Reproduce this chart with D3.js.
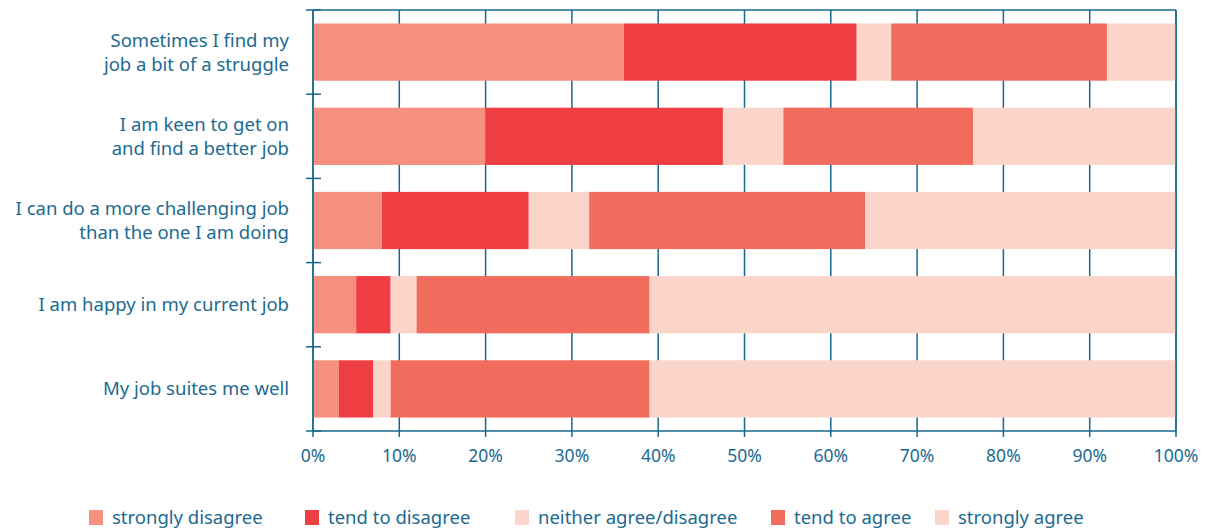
<!DOCTYPE html>
<html>
<head>
<meta charset="utf-8">
<script src="https://cdn.jsdelivr.net/npm/d3@7"></script>
<style>
  body { margin: 0; background: #fff; }
  text { font-family: "Noto Sans", sans-serif; fill: #1c6a91; }
</style>
</head>
<body>
<div id="chart"></div>
<script>
let w = 1210;
let h = 532;

// data (percent of respondents)
const statements = [
  ["Sometimes I find my", "job a bit of a struggle"],
  ["I am keen to get on", "and find a better job"],
  ["I can do a more challenging job", "than the one I am doing"],
  ["I am happy in my current job"],
  ["My job suites me well"]
];
const answers = ["strongly disagree", "tend to disagree", "neither agree/disagree", "tend to agree", "strongly agree"];
const stronglyDisagree = [36, 20, 8, 5, 3];
const tendDisagree     = [27, 27.5, 17, 4, 4];
const neither          = [4, 7, 7, 3, 2];
const tendAgree        = [25, 22, 32, 27, 30];
const stronglyAgree    = [8, 23.5, 36, 61, 61];
const xTicks = [0, 10, 20, 30, 40, 50, 60, 70, 80, 90, 100];

const colors = ["#f4907d", "#ef3e42", "#fbd5ca", "#f26c5e", "#fbd5ca"];
const axisColor = "#17688f";

// build table rows for the stack
const rows = statements.map((s, i) => ({
  id: i,
  [answers[0]]: stronglyDisagree[i],
  [answers[1]]: tendDisagree[i],
  [answers[2]]: neither[i],
  [answers[3]]: tendAgree[i],
  [answers[4]]: stronglyAgree[i]
}));

const margin = {left: 313, right: 34, top: 10, bottom: 101};

let svg = d3.select("#chart")
  .append("svg")
  .attr("width", w)
  .attr("height", h);

const x = d3.scaleLinear().domain([0, 100]).range([margin.left, w - margin.right]);
const y = d3.scaleBand()
  .domain(d3.range(statements.length))
  .range([margin.top, h - margin.bottom])
  .paddingInner(0.32)
  .paddingOuter(0.16);

// vertical grid lines + bottom ticks
svg.append("g")
  .selectAll("line")
  .data(xTicks)
  .join("line")
  .attr("x1", d => x(d)).attr("x2", d => x(d))
  .attr("y1", margin.top).attr("y2", h - margin.bottom + 6)
  .attr("stroke", axisColor)
  .attr("stroke-width", 1.5);

// stacked bars
const stack = d3.stack().keys(answers)(rows);
svg.append("g")
  .selectAll("g")
  .data(stack)
  .join("g")
  .attr("fill", (d, i) => colors[i])
  .selectAll("rect")
  .data(d => d)
  .join("rect")
  .attr("x", d => x(d[0]))
  .attr("y", d => y(d.data.id))
  .attr("width", d => x(d[1]) - x(d[0]))
  .attr("height", y.bandwidth());

// frame
const frame = svg.append("g").attr("stroke", axisColor).attr("stroke-width", 1.5).attr("fill", "none");
frame.append("line").attr("x1", x(0)).attr("x2", x(100)).attr("y1", margin.top).attr("y2", margin.top);
frame.append("line").attr("x1", x(0)).attr("x2", x(100)).attr("y1", h - margin.bottom).attr("y2", h - margin.bottom);
frame.append("line").attr("x1", x(0)).attr("x2", x(0)).attr("y1", margin.top).attr("y2", h - margin.bottom);
frame.append("line").attr("x1", x(100)).attr("x2", x(100)).attr("y1", margin.top).attr("y2", h - margin.bottom);

// y category separator ticks
const sepY = d3.range(statements.length + 1).map(i => margin.top + i * y.step());
frame.selectAll(".sep")
  .data(sepY)
  .join("line")
  .attr("x1", x(0) - 7).attr("x2", x(0) + 8)
  .attr("y1", d => d).attr("y2", d => d);

// x tick labels
svg.append("g")
  .selectAll("text")
  .data(xTicks)
  .join("text")
  .attr("x", d => x(d))
  .attr("y", h - margin.bottom + 25)
  .attr("text-anchor", "middle")
  .attr("dy", "0.35em")
  .style("font-size", "17.5px")
  .text(d => d + "%");

// category labels
const lab = svg.append("g")
  .selectAll("text")
  .data(statements)
  .join("text")
  .attr("text-anchor", "end")
  .style("font-size", "18.5px")
  .attr("transform", (d, i) => `translate(${x(0) - 24},${y(i) + y.bandwidth() / 2})`);
lab.selectAll("tspan")
  .data(d => d.map((t, j) => ({t, j, n: d.length})))
  .join("tspan")
  .attr("x", 0)
  .attr("y", d => (d.j - (d.n - 1) / 2) * 24)
  .attr("dy", "0.35em")
  .text(d => d.t);

// legend
const legX = [89, 305, 515, 771, 935];
const leg = svg.append("g")
  .selectAll("g")
  .data(answers)
  .join("g")
  .attr("transform", (d, i) => `translate(${legX[i]},510)`);
leg.append("rect")
  .attr("width", 14).attr("height", 15)
  .attr("fill", (d, i) => colors[i]);
leg.append("text")
  .attr("x", 23).attr("y", 8)
  .attr("dy", "0.35em")
  .style("font-size", "18.5px")
  .text(d => d);
</script>
</body>
</html>
